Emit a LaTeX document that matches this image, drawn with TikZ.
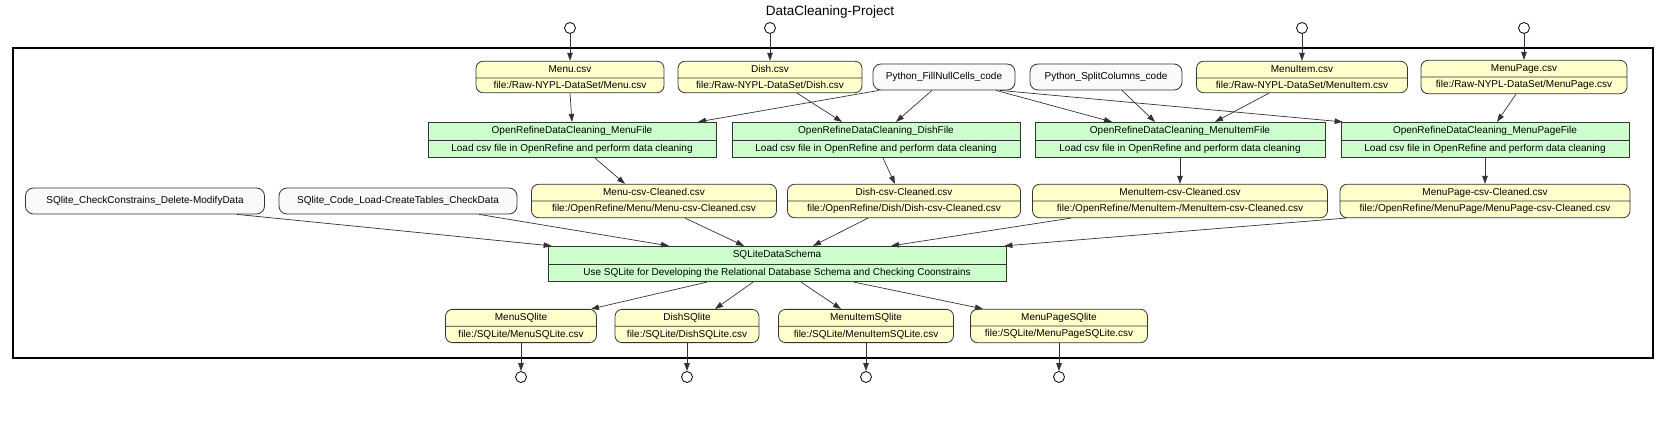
\documentclass[tikz,border=0pt]{standalone}
\usepackage{fontspec}
\setmainfont{Liberation Sans}
\usetikzlibrary{arrows.meta,shapes.multipart,positioning}

\definecolor{csvbg}{HTML}{FFFFCC}
\definecolor{stepbg}{HTML}{CCFFCC}
\definecolor{codebg}{HTML}{FAFAFA}
\definecolor{linegray}{HTML}{333333}

\tikzset{
  csvfile/.style={rectangle split, rectangle split parts=2, draw=linegray, fill=csvbg,
    rounded corners=7pt, line width=0.8pt, font=\fontsize{10}{12}\selectfont,
    text height=7.5pt, text depth=2pt, inner ysep=3.25pt, inner xsep=2pt},
  cleanstep/.style={rectangle split, rectangle split parts=2, draw=linegray, fill=stepbg,
    line width=0.8pt, font=\fontsize{10}{12}\selectfont,
    text height=7.5pt, text depth=2pt, inner ysep=3.75pt, inner xsep=2pt},
  codebox/.style={rectangle, draw=linegray, fill=codebg, rounded corners=8pt,
    line width=0.8pt, font=\fontsize{10}{12}\selectfont, minimum height=26pt},
  port/.style={circle, draw=black, fill=white, line width=0.8pt, minimum size=11pt, inner sep=0pt},
  flow/.style={->, line width=0.7pt, draw=linegray}
}

\begin{document}
\begin{tikzpicture}[x=1pt,y=-1pt,>={Triangle[length=8pt,width=5.5pt]}]
    \useasboundingbox (0,0) rectangle (1670,427);

    \node[font=\fontsize{13.5}{16}\selectfont] (title) at (830,12) {DataCleaning-Project};
    \draw[line width=1.4pt] (13,48) rectangle (1653,358);

    \node[port] (inmenu) at (570,28) {};
    \node[port] (indish) at (770,28) {};
    \node[port] (inmenuitem) at (1302,28) {};
    \node[port] (inmenupage) at (1524,28) {};

    \node[csvfile, minimum width=188pt] (menucsv) at (570,77) {Menu.csv \nodepart{two} file:/Raw-NYPL-DataSet/Menu.csv};
    \node[csvfile, minimum width=184pt] (dishcsv) at (770,77) {Dish.csv \nodepart{two} file:/Raw-NYPL-DataSet/Dish.csv};
    \node[codebox, minimum width=142pt] (fillnull) at (944,77) {Python\_FillNullCells\_code};
    \node[codebox, minimum width=152pt] (splitcol) at (1106,77) {Python\_SplitColumns\_code};
    \node[csvfile, minimum width=211pt] (menuitemcsv) at (1302,77) {MenuItem.csv \nodepart{two} file:/Raw-NYPL-DataSet/MenuItem.csv};
    \node[csvfile, minimum width=206pt] (menupagecsv) at (1524,77) {MenuPage.csv \nodepart{two} file:/Raw-NYPL-DataSet/MenuPage.csv};

    \node[cleanstep, minimum width=288pt] (menufile) at (572,140) {OpenRefineDataCleaning\_MenuFile \nodepart{two} Load csv file in OpenRefine and perform data cleaning};
    \node[cleanstep, minimum width=288pt] (dishfile) at (876,140) {OpenRefineDataCleaning\_DishFile \nodepart{two} Load csv file in OpenRefine and perform data cleaning};
    \node[cleanstep, minimum width=290pt] (menuitemfile) at (1180,140) {OpenRefineDataCleaning\_MenuItemFile \nodepart{two} Load csv file in OpenRefine and perform data cleaning};
    \node[cleanstep, minimum width=288pt] (menupagefile) at (1485,140) {OpenRefineDataCleaning\_MenuPageFile \nodepart{two} Load csv file in OpenRefine and perform data cleaning};

    \node[codebox, minimum width=239pt] (checkdata) at (145,201) {SQlite\_CheckConstrains\_Delete-ModifyData};
    \node[codebox, minimum width=238pt] (loaddata) at (398,201) {SQlite\_Code\_Load-CreateTables\_CheckData};
    \node[csvfile, minimum width=245pt] (menuclean) at (654,201) {Menu-csv-Cleaned.csv \nodepart{two} file:/OpenRefine/Menu/Menu-csv-Cleaned.csv};
    \node[csvfile, minimum width=233pt] (dishclean) at (904,201) {Dish-csv-Cleaned.csv \nodepart{two} file:/OpenRefine/Dish/Dish-csv-Cleaned.csv};
    \node[csvfile, minimum width=295pt] (menuitemclean) at (1180,201) {MenuItem-csv-Cleaned.csv \nodepart{two} file:/OpenRefine/MenuItem-/MenuItem-csv-Cleaned.csv};
    \node[csvfile, minimum width=290pt] (menupageclean) at (1485,201) {MenuPage-csv-Cleaned.csv \nodepart{two} file:/OpenRefine/MenuPage/MenuPage-csv-Cleaned.csv};

    \node[cleanstep, minimum width=458pt] (schema) at (777,264) {SQLiteDataSchema \nodepart{two} Use SQLite for Developing the Relational Database Schema and Checking Coonstrains};

    \node[csvfile, minimum width=151pt] (menusql) at (521,326) {MenuSQlite \nodepart{two} file:/SQLite/MenuSQLite.csv};
    \node[csvfile, minimum width=144pt] (dishsql) at (687,326) {DishSQlite \nodepart{two} file:/SQLite/DishSQLite.csv};
    \node[csvfile, minimum width=175pt] (menuitemsql) at (866,326) {MenuItemSQlite \nodepart{two} file:/SQLite/MenuItemSQLite.csv};
    \node[csvfile, minimum width=177pt] (menupagesql) at (1059,326) {MenuPageSQlite \nodepart{two} file:/SQLite/MenuPageSQLite.csv};

    \node[port] (outmenu) at (521,377) {};
    \node[port] (outdish) at (687,377) {};
    \node[port] (outmenuitem) at (866,377) {};
    \node[port] (outmenupage) at (1059,377) {};

    \draw[flow] (inmenu) -- (menucsv);
    \draw[flow] (indish) -- (dishcsv);
    \draw[flow] (inmenuitem) -- (menuitemcsv);
    \draw[flow] (inmenupage) -- (menupagecsv);

    \draw[flow] (menucsv.south) -- (menufile.north);
    \draw[flow] ([xshift=27pt]dishcsv.south) -- ([xshift=-34pt]dishfile.north);
    \draw[flow] ([xshift=-65pt]fillnull.south) -- ([xshift=126pt]menufile.north);
    \draw[flow] ([xshift=-12pt]fillnull.south) -- ([xshift=20pt]dishfile.north);
    \draw[flow] ([xshift=52pt]fillnull.south) -- ([xshift=-68pt]menuitemfile.north);
    \draw[flow] ([xshift=56pt]fillnull.south) -- ([xshift=2pt]menupagefile.north west);
    \draw[flow] ([xshift=16pt]splitcol.south) -- ([xshift=-25pt]menuitemfile.north);
    \draw[flow] ([xshift=-33pt]menuitemcsv.south) -- ([xshift=35pt]menuitemfile.north);
    \draw[flow] ([xshift=-8pt]menupagecsv.south) -- ([xshift=12pt]menupagefile.north);

    \draw[flow] ([xshift=23pt]menufile.south) -- ([xshift=-29pt]menuclean.north);
    \draw[flow] ([xshift=7pt]dishfile.south) -- ([xshift=-9pt]dishclean.north);
    \draw[flow] (menuitemfile.south) -- (menuitemclean.north);
    \draw[flow] (menupagefile.south) -- (menupageclean.north);

    \draw[flow] ([xshift=92pt]checkdata.south) -- ([xshift=4pt]schema.north west);
    \draw[flow] ([xshift=81pt]loaddata.south) -- ([xshift=-108pt]schema.north);
    \draw[flow] ([xshift=31pt]menuclean.south) -- ([xshift=-33pt]schema.north);
    \draw[flow] ([xshift=-36pt]dishclean.south) -- ([xshift=36pt]schema.north);
    \draw[flow] ([xshift=-109pt]menuitemclean.south) -- ([xshift=114pt]schema.north);
    \draw[flow] ([xshift=6pt]menupageclean.south west) -- ([xshift=-2pt]schema.north east);

    \draw[flow] ([xshift=-70pt]schema.south) -- ([xshift=70pt]menusql.north);
    \draw[flow] ([xshift=-24pt]schema.south) -- ([xshift=28pt]dishsql.north);
    \draw[flow] ([xshift=24pt]schema.south) -- ([xshift=-25pt]menuitemsql.north);
    \draw[flow] ([xshift=77pt]schema.south) -- ([xshift=-76pt]menupagesql.north);

    \draw[flow] (menusql) -- (outmenu);
    \draw[flow] (dishsql) -- (outdish);
    \draw[flow] (menuitemsql) -- (outmenuitem);
    \draw[flow] (menupagesql) -- (outmenupage);
\end{tikzpicture}
\end{document}
